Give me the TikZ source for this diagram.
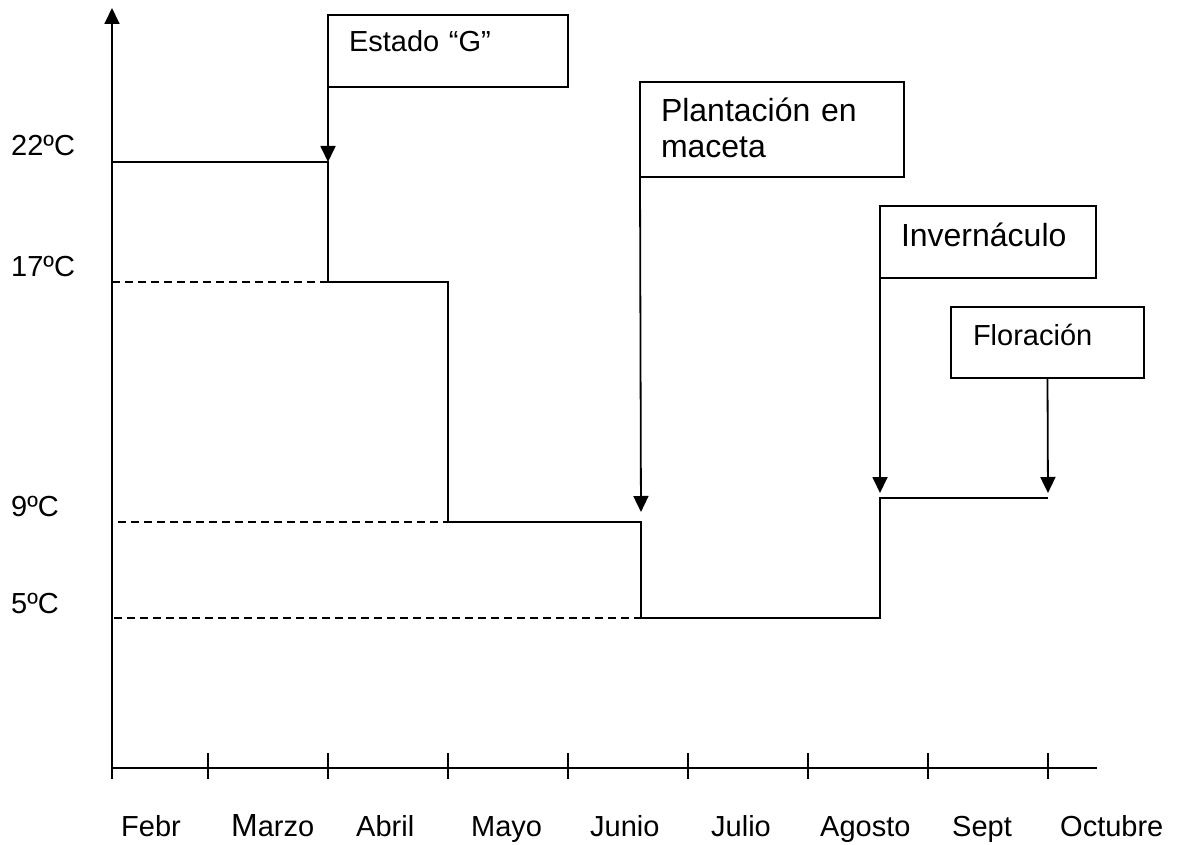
\documentclass[tikz,border=0pt]{standalone}
\usepackage{fontspec}
\setmainfont{Liberation Sans}
\usetikzlibrary{arrows.meta}

\tikzset{
  box/.style={draw, line width=1.8pt, anchor=north west, align=left,
              inner ysep=0pt, inner xsep=21pt, outer sep=0pt},
  lbl/.style={anchor=base west, inner sep=0pt},
  stepline/.style={line width=1.8pt},
  guide/.style={line width=1.6pt, dash pattern=on 8pt off 5pt},
  pointer/.style={line width=1.8pt, -{Triangle[width=15pt,length=16pt]}},
}

\begin{document}
\begin{tikzpicture}[x=1pt,y=-1pt,font=\fontsize{29}{34}\selectfont]
    \useasboundingbox (0,0) rectangle (1179,845);

    % axes
    \coordinate (o)    at (112,768);
    \coordinate (ytop) at (112,8);
    \coordinate (xend) at (1097,768);
    \draw[line width=1.8pt, -{Triangle[width=15pt,length=16pt]}] (o) -- (ytop);
    \draw[line width=1.8pt] (o) -- (xend);
    \foreach \tx in {112,208,328,448,568,688,808,928,1048}
        \draw[line width=1.8pt] (\tx,753) -- (\tx,779);

    % months
    \foreach \mx/\mname in {121/Febr, 231/{{\fontsize{32}{34}\selectfont M}arzo}, 356/Abril,
                            471/Mayo, 590/Junio, 711/Julio, 820/Agosto, 952/Sept, 1060/Octubre}
        \node[lbl] at (\mx,836) {\mname};

    % temperatures
    \node[lbl] (t22) at (11,156) {22ºC};
    \node[lbl] (t17) at (11,277) {17ºC};
    \node[lbl] (t9)  at (11,516) {9ºC};
    \node[lbl] (t5)  at (11,613) {5ºC};

    % steps
    \coordinate (a1)  at (112,162);
    \coordinate (a2)  at (328,162);
    \coordinate (a3)  at (328,282);
    \coordinate (a4)  at (448,282);
    \coordinate (a5)  at (448,522);
    \coordinate (a6)  at (641,522);
    \coordinate (a7)  at (641,618);
    \coordinate (a8)  at (880,618);
    \coordinate (a9)  at (880,498);
    \coordinate (a10) at (1048,498);
    \draw[stepline] (a1) -- (a2) -- (a3) -- (a4) -- (a5) -- (a6) -- (a7)
                    -- (a8) -- (a9) -- (a10);

    \coordinate (d17) at (112,282);
    \coordinate (d9)  at (118,522);
    \coordinate (d5)  at (114,618);
    \draw[guide] (d17) -- (a3);
    \draw[guide] (d9) -- (a5);
    \draw[guide] (d5) -- (a7);

    % events
    \node[box, text width=198pt, text height=37pt, text depth=35pt]
        (estado) at (328,15) {Estado “G”};
    \node[box, font=\fontsize{32}{36}\selectfont, text width=222pt,
          text height=40pt, text depth=55pt]
        (plant) at (640,82) {Plantación en\\maceta};
    \node[box, font=\fontsize{32}{36}\selectfont, text width=174pt,
          text height=41pt, text depth=31pt]
        (inver) at (880,206) {Invernáculo};
    \node[box, inner xsep=22pt, text width=149pt, text height=38pt, text depth=33pt]
        (flor) at (951,307) {Floración};

    \draw[pointer] (estado.south west) -- (a2);
    \draw[pointer, shorten >=10pt] (plant.south west) -- (a6);
    \draw[pointer, shorten >=5pt] (inver.south west) -- (a9);
    \draw[pointer, shorten >=5pt] (flor.south) -- (a10);
\end{tikzpicture}
\end{document}
